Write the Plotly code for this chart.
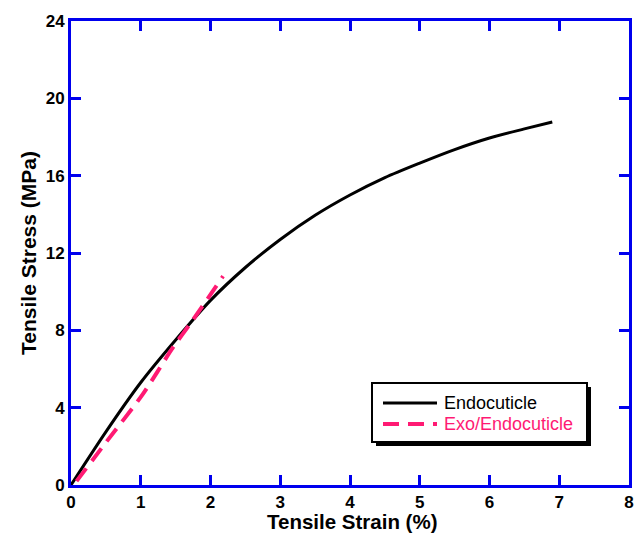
import plotly.graph_objects as go

endo_x = [0, 0.5, 1.0, 1.5, 2.0, 2.5, 3.0, 3.5, 4.0, 4.5, 5.0, 5.5, 6.0, 6.5, 6.9]
endo_y = [0, 2.75, 5.3, 7.5, 9.55, 11.25, 12.7, 13.95, 15.0, 15.9, 16.65, 17.35, 17.95, 18.42, 18.78]

exo_x = [0.08, 0.5, 1.03, 1.46, 1.75, 2.18]
exo_y = [0.2, 2.2, 4.7, 7.1, 8.55, 10.8]

x_ticks = [0, 1, 2, 3, 4, 5, 6, 7, 8]
y_ticks = [0, 4, 8, 12, 16, 20, 24]

legend_names = ["Endocuticle", "Exo/Endocuticle"]
x_title = "Tensile Strain (%)"
y_title = "Tensile Stress (MPa)"

BLUE = "#0000ee"
PINK = "#ff1a73"
FONT = "Liberation Sans, Arial"

fig = go.Figure()
fig.add_trace(go.Scatter(x=endo_x, y=endo_y, mode="lines", name=legend_names[0],
                         line=dict(color="black", width=3, shape="spline", smoothing=0.8),
                         showlegend=False))
fig.add_trace(go.Scatter(x=exo_x, y=exo_y, mode="lines", name=legend_names[1],
                         line=dict(color=PINK, width=4, dash="16px,9px", shape="spline", smoothing=0.8),
                         showlegend=False))

axis_common = dict(showline=True, mirror="ticks", linecolor=BLUE, linewidth=3,
                   ticks="inside", ticklen=10, tickwidth=3, tickcolor=BLUE,
                   showgrid=False, zeroline=False, automargin=False,
                   tickfont=dict(family=FONT, size=17, color="black"))

fig.update_xaxes(range=[0, 8], tickvals=x_ticks, ticktext=["<b>%d</b>" % v for v in x_ticks],
                 **axis_common)
fig.update_yaxes(range=[0, 24], tickvals=y_ticks, ticktext=["<b>%d</b>" % v for v in y_ticks],
                 title=dict(text="<b>%s</b>" % y_title, standoff=4,
                            font=dict(family=FONT, size=21, color="black")),
                 **axis_common)

# pixel -> paper conversion
L, T, W, H = 71, 21, 558, 464
def px(xp):
    return (xp - L) / W
def py(yp):
    return (T + H - yp) / H

# x-axis title
fig.add_annotation(xref="paper", yref="paper", x=px(352), y=py(521), text="<b>%s</b>" % x_title,
                   showarrow=False, xanchor="center", yanchor="middle", borderpad=0,
                   font=dict(family=FONT, size=20.5, color="black"))

# manual legend: shadow, box, samples, labels
fig.add_shape(type="rect", xref="paper", yref="paper",
              x0=px(376), x1=px(591), y0=py(446), y1=py(387),
              fillcolor="black", line=dict(width=0))
fig.add_shape(type="rect", xref="paper", yref="paper",
              x0=px(372), x1=px(587), y0=py(442), y1=py(383),
              fillcolor="white", line=dict(color="black", width=2))
fig.add_shape(type="line", xref="paper", yref="paper",
              x0=px(383), x1=px(437), y0=py(403), y1=py(403),
              line=dict(color="black", width=3))
fig.add_shape(type="line", xref="paper", yref="paper",
              x0=px(383), x1=px(437), y0=py(424), y1=py(424),
              line=dict(color=PINK, width=4, dash="16px,9px"))
fig.add_annotation(xref="paper", yref="paper", x=px(442), y=py(403), text=legend_names[0],
                   showarrow=False, xanchor="left", yanchor="middle",
                   font=dict(family=FONT, size=18, color="black"))
fig.add_annotation(xref="paper", yref="paper", x=px(442), y=py(424), text=legend_names[1],
                   showarrow=False, xanchor="left", yanchor="middle",
                   font=dict(family=FONT, size=18, color=PINK))

fig.update_layout(
    width=644, height=534,
    margin=dict(l=71, r=15, t=21, b=49),
    plot_bgcolor="white", paper_bgcolor="white",
    showlegend=False,
)

fig.write_html("out.html")
